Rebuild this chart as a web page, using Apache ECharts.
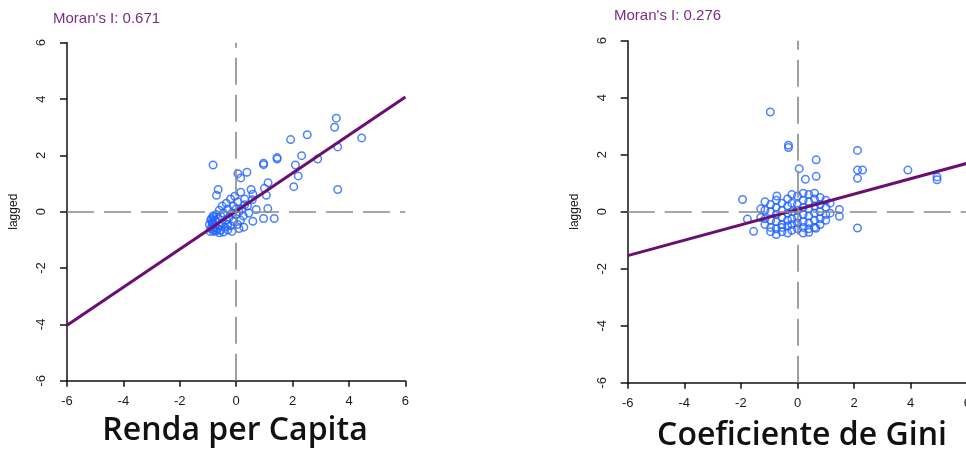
<!DOCTYPE html>
<html>
<head>
<meta charset="utf-8">
<script src="https://cdn.jsdelivr.net/npm/echarts@6/dist/echarts.min.js"></script>
<style>
  html, body { margin: 0; padding: 0; background: #fff; }
  #plot { width: 966px; height: 452px; }
</style>
</head>
<body>
<div id="plot"></div>
<script>
// Renda per Capita (standardized) vs spatially lagged value
var rendaX = [3.55, 3.49, 4.45, 2.52, 1.93, 3.6, 1.45, 1.45, 2.32, 2.89, 2.1, 2.2, 2.04, 3.6, 0.97, 0.97, 1.13, 1.07, 1.0,
  -0.82, 0.06, 0.38, 0.16, -0.64, -0.7, 0.16, 0.53, 0.59, 0.57, 1.12, 0.71, 0.97, 1.35, 0.59, 0.27,
  -0.2, -0.35, -0.1, 0.05, 0.2, -0.5, -0.6, -0.45, -0.3, -0.15, 0.0, 0.1, 0.3, 0.25, -0.7, -0.8, -0.9, -0.85,
  -0.75, -0.65, -0.55, -0.9, -0.8, -0.7, -0.6, -0.5, -0.4, -0.3, -0.2, -0.1, 0.05, 0.15, -0.85, -0.95, -0.75,
  -0.65, -0.55, -0.35, -0.25, 0.3, 0.4, 0.45, 0.1, -0.15, -0.45, -0.92, -0.6, -0.3, 0.0, -0.05,
  -0.82, -0.82, -0.82, -0.88, -0.78];
var rendaLag = [3.32, 3.0, 2.62, 2.73, 2.56, 2.3, 1.92, 1.87, 1.99, 1.87, 1.66, 1.27, 0.89, 0.79, 1.72, 1.67, 1.03, 0.58, 0.83,
  1.66, 1.35, 1.4, 1.2, 0.79, 0.58, 0.69, 0.79, 0.62, 0.42, 0.11, 0.08, -0.24, -0.24, -0.34, -0.55,
  0.45, 0.3, 0.2, 0.35, 0.1, 0.2, 0.05, -0.05, 0.1, -0.05, -0.1, 0.0, 0.25, -0.15, -0.1, -0.2, -0.3, -0.45,
  -0.55, -0.6, -0.65, -0.6, -0.7, -0.68, -0.5, -0.4, -0.55, -0.65, -0.5, -0.35, -0.45, -0.3, -0.35, -0.45, -0.3,
  -0.25, -0.15, -0.3, -0.2, 0.45, 0.2, -0.05, -0.6, -0.7, -0.72, -0.7, -0.75, -0.45, 0.1, 0.55,
  -0.15, -0.4, -0.55, -0.25, -0.65];
var rendaFitX = [-6, 6];
var rendaFitY = [-4.03, 4.07];

// Coeficiente de Gini (standardized) vs spatially lagged value
var giniX = [-0.96, -0.32, -0.32, 2.12, 0.66, 0.06, 0.28, 0.66, 2.12, 2.3, 2.12, 3.9, 4.93, 4.93, -1.94, -1.77, -1.55, 2.12, 1.48, 1.48, -0.73, 0.65,
  -1.3, -1.3, -1.15, -1.15, -1.15, -1.15, -0.95, -0.95, -0.95, -0.95, -0.95,
  -0.75, -0.75, -0.75, -0.75, -0.75, -0.75, -0.55, -0.55, -0.55, -0.55, -0.55, -0.55,
  -0.35, -0.35, -0.35, -0.35, -0.35, -0.35, -0.2, -0.2, -0.2, -0.2, -0.2, -0.2,
  0.0, 0.0, 0.0, 0.0, 0.0, 0.0, 0.2, 0.2, 0.2, 0.2, 0.2, 0.2, 0.2,
  0.4, 0.4, 0.4, 0.4, 0.4, 0.4, 0.4, 0.6, 0.6, 0.6, 0.6, 0.6, 0.6,
  0.8, 0.8, 0.8, 0.8, 0.8, 1.0, 1.0, 1.0, 1.0, 1.15, 1.15];
var giniLag = [3.5, 2.33, 2.25, 2.15, 1.82, 1.51, 1.14, 1.24, 1.46, 1.46, 1.17, 1.46, 1.22, 1.12, 0.43, -0.26, -0.69, -0.57, 0.08, -0.16, 0.55, -0.58,
  0.1, -0.2, 0.35, 0.05, -0.25, -0.45, 0.25, 0.0, -0.3, -0.55, -0.7,
  0.4, 0.15, -0.1, -0.35, -0.6, -0.8, 0.3, 0.05, -0.2, -0.45, -0.7, -0.55,
  0.45, 0.2, -0.05, -0.3, -0.5, -0.75, 0.6, 0.3, 0.0, -0.25, -0.45, -0.65,
  0.55, 0.25, 0.05, -0.2, -0.4, -0.6, 0.65, 0.4, 0.15, -0.1, -0.35, -0.55, -0.75,
  0.6, 0.35, 0.1, -0.15, -0.4, -0.6, -0.72, 0.65, 0.45, 0.2, -0.05, -0.3, -0.55,
  0.5, 0.25, 0.0, -0.25, -0.45, 0.4, 0.15, -0.1, -0.3, 0.3, -0.05];
var giniFitX = [-6, 6];
var giniFitY = [-1.54, 1.70];

var ticks = [-6, -4, -2, 0, 2, 4, 6];

function pairs(xs, ys) {
  return xs.map(function (x, i) { return [x, ys[i]]; });
}

var font = 'Liberation Sans';

function xAx(idx) {
  return {
    gridIndex: idx, type: 'value', min: ticks[0], max: ticks[ticks.length - 1], interval: 2,
    axisLine: { show: true, onZero: false, lineStyle: { color: '#111', width: 1.5 } },
    axisTick: { show: true, inside: false, length: 6, lineStyle: { color: '#111', width: 1.5 } },
    axisLabel: { fontFamily: font, fontSize: 13, color: '#1a1a1a', margin: 14 },
    splitLine: { show: false }
  };
}
function yAx(idx) {
  return {
    gridIndex: idx, type: 'value', min: ticks[0], max: ticks[ticks.length - 1], interval: 2,
    name: 'lagged', nameLocation: 'middle', nameRotate: 90, nameGap: 47,
    nameTextStyle: { fontFamily: font, fontSize: 12, color: '#111' },
    axisLine: { show: true, onZero: false, lineStyle: { color: '#111', width: 1.5 } },
    axisTick: { show: true, inside: false, length: 7, lineStyle: { color: '#111', width: 1.5 } },
    axisLabel: { fontFamily: font, fontSize: 13, color: '#1a1a1a', rotate: 90, margin: 19 },
    splitLine: { show: false }
  };
}

var dashes = {
  silent: true, symbol: 'none', label: { show: false },
  lineStyle: { color: '#8a8a8a', width: 1.6, type: [27, 10] },
  data: [{ xAxis: 0 }, { yAxis: 0 }]
};

function scatter(idx, data) {
  return {
    type: 'scatter', xAxisIndex: idx, yAxisIndex: idx, data: data,
    symbol: 'circle', symbolSize: 7.5,
    itemStyle: { color: 'rgba(255,255,255,0)', borderColor: '#1f62ff', borderWidth: 1.5 },
    markLine: dashes, z: 2
  };
}
function fit(idx, xs, ys) {
  return {
    type: 'line', xAxisIndex: idx, yAxisIndex: idx, data: pairs(xs, ys),
    showSymbol: false, silent: true,
    lineStyle: { color: '#6a0f72', width: 3 }, z: 3
  };
}

var myPlot = echarts.init(document.getElementById('plot'));
option = {
  animation: false,
  grid: [
    { left: 67, top: 42.7, width: 338.4, height: 338, outerBoundsMode: 'none' },
    { left: 627.7, top: 40.7, width: 339.6, height: 342, outerBoundsMode: 'none' }
  ],
  xAxis: [xAx(0), xAx(1)],
  yAxis: [yAx(0), yAx(1)],
  graphic: [
    { type: 'text', left: 53, top: 11, style: { text: "Moran's I: 0.671", font: '15px "Liberation Sans"', fill: '#7a2d86' } },
    { type: 'text', left: 614, top: 8, style: { text: "Moran's I: 0.276", font: '15px "Liberation Sans"', fill: '#7a2d86' } },
    { type: 'text', x: 235, y: 431, style: { text: 'Renda per Capita', font: '600 32px "Open Sans"', fill: '#111', textAlign: 'center', textVerticalAlign: 'middle' } },
    { type: 'text', x: 802, y: 436, style: { text: 'Coeficiente de Gini', font: '600 32px "Open Sans"', fill: '#111', textAlign: 'center', textVerticalAlign: 'middle' } }
  ],
  series: [
    scatter(0, pairs(rendaX, rendaLag)),
    fit(0, rendaFitX, rendaFitY),
    scatter(1, pairs(giniX, giniLag)),
    fit(1, giniFitX, giniFitY)
  ]
};

option && myPlot.setOption(option);
</script>
</body>
</html>
